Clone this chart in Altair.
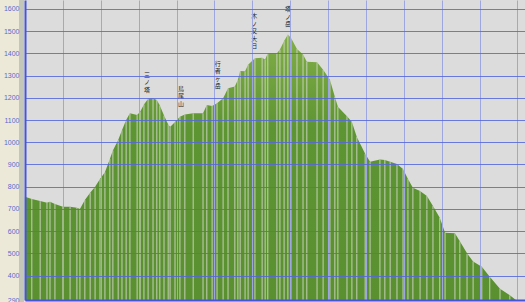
import altair as alt
import pandas as pd

# distance (km) and elevation (m) read from the profile
dist_km = [0.00, 0.18, 0.40, 0.58, 0.66, 0.79, 1.00, 1.19, 1.37, 1.45, 1.58, 1.72, 1.85, 1.98,
           2.11, 2.24, 2.32, 2.46, 2.56, 2.67, 2.77, 2.96, 3.04, 3.14, 3.25, 3.38, 3.48, 3.56,
           3.67, 3.78, 3.83, 3.96, 4.09, 4.22, 4.44, 4.70, 4.80, 4.94, 5.07, 5.23, 5.36, 5.54,
           5.62, 5.68, 5.81, 5.89, 6.07, 6.26, 6.34, 6.41, 6.65, 6.73, 6.84, 6.94, 7.02, 7.18,
           7.34, 7.44, 7.71, 7.87, 8.05, 8.18, 8.26, 8.50, 8.63, 8.76, 8.98, 9.11, 9.37, 9.50,
           9.64, 9.82, 9.98, 10.11, 10.24, 10.43, 10.61, 10.77, 10.95, 11.09, 11.35, 11.48,
           11.67, 11.83, 12.06, 12.27, 12.54, 12.80, 12.96]
elev_m = [755, 745, 735, 728, 732, 722, 710, 710, 705, 699, 740, 773, 800, 835,
          865, 925, 963, 1010, 1054, 1100, 1130, 1122, 1137, 1170, 1196, 1198, 1190, 1165,
          1120, 1080, 1068, 1091, 1115, 1125, 1130, 1130, 1167, 1163, 1175, 1198, 1243, 1251,
          1281, 1320, 1319, 1349, 1378, 1380, 1372, 1400, 1400, 1417, 1455, 1485, 1470, 1420,
          1395, 1362, 1360, 1326, 1281, 1205, 1160, 1117, 1091, 1024, 948, 912, 922, 920,
          912, 902, 880, 835, 795, 781, 758, 713, 660, 593, 590, 554,
          500, 463, 440, 395, 341, 311, 290]

# peak labels
peak_names = ["三ノ塔", "鳥尾山", "行者ヶ岳", "木ノ又大日", "塔ノ岳"]
peak_km = [3.22, 4.12, 5.09, 6.05, 6.94]
peak_label_top = [1318, 1255, 1367, 1580, 1612]

y_ticks = [290, 400, 500, 600, 700, 800, 900, 1000, 1100, 1200, 1300, 1400, 1500, 1600]
x_grid = list(range(1, 14))

prof = pd.DataFrame({"km": dist_km, "elev": elev_m})
prof["base"] = 290
peaks = pd.DataFrame({"km": peak_km, "top": peak_label_top,
                      "label": ["|".join(list(n)) for n in peak_names]})

xs = alt.Scale(domain=[0, 13.2], nice=False, zero=False)
ys = alt.Scale(domain=[290, 1640], nice=False, zero=False)

x_axis = alt.Axis(values=x_grid, tickCount=30, labels=False, ticks=False, title=None,
                  grid=True, gridColor="#9ea6e2", gridWidth=1,
                  domainColor="#4455dd", domainWidth=2, zindex=1)
y_axis = alt.Axis(values=y_ticks, tickCount=30, ticks=False, title=None,
                  labelFont="Liberation Sans",
                  labelFontSize=7, labelColor="#5a6ad0", labelPadding=6,
                  labelOverlap=False, labelFlush=False, format="d",
                  grid=True, gridColor="#5566dd", gridWidth=1, gridOpacity=0.85,
                  domainColor="#4455dd", domainWidth=2, zindex=1)

strip = alt.Chart(pd.DataFrame({"a": [0]})).mark_rect(color="#c3c7ba").encode(
    x=alt.value(-6), x2=alt.value(-1), y=alt.value(0), y2=alt.value(302))

area = alt.Chart(prof).mark_area(
    color=alt.Gradient(gradient="linear", x1=0, y1=0, x2=0, y2=1,
                       stops=[alt.GradientStop(color="#82ae48", offset=0),
                              alt.GradientStop(color="#5e9533", offset=0.35),
                              alt.GradientStop(color="#5a9030", offset=1)]),
    interpolate="linear"
).encode(
    x=alt.X("km:Q", scale=xs, axis=x_axis),
    y=alt.Y("elev:Q", scale=ys, axis=y_axis),
    y2="base:Q",
)

rules = alt.Chart(prof).mark_rule(color="#d0d6c6", strokeWidth=1, opacity=0.9).encode(
    x=alt.X("km:Q", scale=xs, axis=x_axis),
    y=alt.Y("elev:Q", scale=ys, axis=y_axis),
    y2="base:Q",
)

labels = alt.Chart(peaks).mark_text(
    font="Noto Sans CJK JP", fontSize=6, lineHeight=7.5, baseline="top", align="center",
    color="#222222", lineBreak="|"
).encode(
    x=alt.X("km:Q", scale=xs, axis=x_axis),
    y=alt.Y("top:Q", scale=ys, axis=y_axis),
    text="label:N",
)

chart = alt.layer(strip, area, rules, labels).properties(
    width=500, height=300,
    padding={"left": 25, "right": 0, "top": 0, "bottom": 2},
    autosize=alt.AutoSizeParams(type="none"),
    background="#ece9d8",
).configure_view(fill="#dcdcdc", stroke=None)

chart.save("out.html", embed_options={"renderer": "svg", "actions": False})
